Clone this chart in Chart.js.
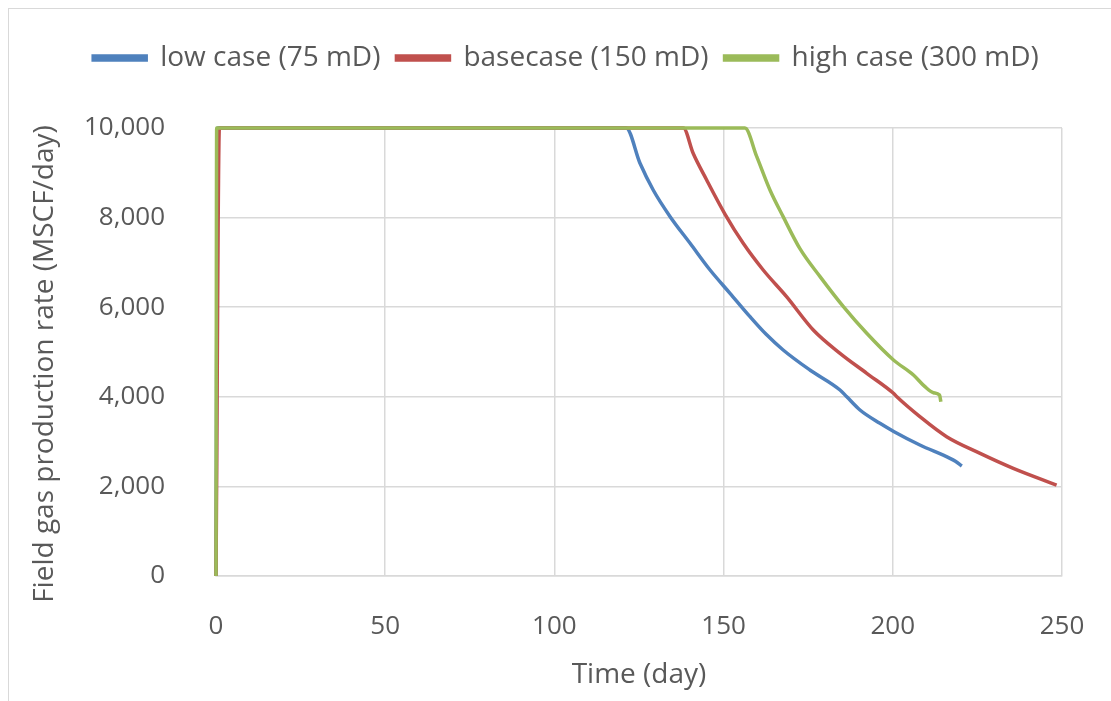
<!DOCTYPE html>
<html>
<head>
<meta charset="utf-8">
<script src="https://cdn.jsdelivr.net/npm/chart.js@4.4.1/dist/chart.umd.min.js"></script>
<style>
  html, body { margin: 0; padding: 0; background: #fff; overflow: hidden; }
  #frame { position: absolute; left: 8px; top: 8px; width: 1200px; height: 800px; border: 1px solid #d9d9d9; }
  #wrap { position: absolute; left: 0; top: 0; width: 1111px; height: 701px; }
</style>
</head>
<body>
<div id="frame"></div>
<div id="wrap"><canvas id="gasChart" width="1111" height="701"></canvas></div>
<script>
const seriesNames = ["low case (75 mD)", "basecase (150 mD)", "high case (300 mD)"];
const seriesColors = ["#4f81bd", "#c0504d", "#9bbb59"];

const lowDays = [0, 0.5, 121.2, 125.3, 129.2, 134.2, 140.1, 146.0, 151.9, 157.8, 162.5, 167.6, 175.5, 184.4, 186.4, 190.3, 196.2, 200.4, 208.0, 216.9, 218.5, 220.4];
const lowRate = [0, 10000, 10000, 9212, 8616, 8021, 7426, 6830, 6310, 5788, 5400, 5045, 4598, 4152, 4000, 3705, 3408, 3221, 2924, 2627, 2560, 2455];

const baseDays = [0, 1, 138.1, 141.0, 145.0, 150.4, 155.8, 161.7, 168.6, 176.5, 184.4, 192.3, 200.2, 201.2, 208.0, 215.9, 225.8, 235.6, 248.4];
const baseRate = [0, 10000, 10000, 9435, 8839, 8080, 7426, 6830, 6235, 5491, 4970, 4524, 4078, 4000, 3557, 3110, 2738, 2404, 2031];

const highDays = [0, 0.2, 156.3, 159.8, 163.7, 167.6, 172.6, 178.5, 185.4, 192.3, 200.2, 206.1, 209.5, 212.0, 213.8, 214.2];
const highRate = [0, 10000, 10000, 9360, 8616, 8021, 7300, 6682, 6012, 5417, 4821, 4487, 4226, 4092, 4040, 3890];

const xTicks = [0, 50, 100, 150, 200, 250];
const yTicks = [0, 2000, 4000, 6000, 8000, 10000];

function pairs(xs, ys) {
    return xs.map((x, i) => ({ x: x, y: ys[i] }));
}

const allDays = [lowDays, baseDays, highDays];
const allRates = [lowRate, baseRate, highRate];
const drawOrder = [2, 1, 0];

const textColor = '#595959';
const gridColor = '#d9d9d9';
const fontFamily = '"Open Sans", "DejaVu Sans", sans-serif';

// extra room under the legend (Excel leaves a big gap there) and nudge it right a bit
const legendTweak = {
    id: 'legendTweak',
    afterInit(chart) {
        const lg = chart.legend;
        const fit = lg.fit;
        lg.fit = function () {
            fit.call(this);
            this.height += 46;
        };
        const draw = lg.draw;
        lg.draw = function () {
            const c = this.ctx;
            c.save();
            c.translate(23, 0);
            draw.call(this);
            c.restore();
        };
    }
};

// the y title sits a little below the middle in the original
function shiftYTitle(s) {
    if (s._titleShifted) return;
    const dt = s.drawTitle;
    s.drawTitle = function () {
        this.ctx.save();
        this.ctx.translate(0, 12);
        dt.call(this);
        this.ctx.restore();
    };
    s._titleShifted = true;
}

const ctx = document.getElementById('gasChart').getContext('2d');
new Chart(ctx, {
    type: 'scatter',
    data: {
        datasets: seriesNames.map((name, i) => ({
            label: name,
            data: pairs(allDays[i], allRates[i]),
            showLine: true,
            borderColor: seriesColors[i],
            backgroundColor: seriesColors[i],
            borderWidth: 3.5,
            pointRadius: 0,
            pointHoverRadius: 0,
            cubicInterpolationMode: 'monotone',
            order: drawOrder[i],
            clip: 8
        }))
    },
    plugins: [legendTweak],
    options: {
        responsive: false,
        animation: false,
        layout: { padding: { left: 24, right: 49, top: 28, bottom: 5 } },
        plugins: {
            tooltip: { enabled: false },
            legend: {
                position: 'top',
                labels: {
                    boxWidth: 53,
                    boxHeight: 4,
                    color: textColor,
                    padding: 16,
                    font: { family: fontFamily, size: 28 },
                    sort: (a, b) => a.datasetIndex - b.datasetIndex
                }
            }
        },
        scales: {
            x: {
                type: 'linear',
                min: 0,
                max: 250,
                afterBuildTicks: s => { s.ticks = xTicks.map(v => ({ value: v })); },
                afterFit: s => { s.height = 120; s.paddingLeft = 0; s.paddingRight = 0; },
                grid: { color: gridColor, lineWidth: 1.5, drawTicks: false },
                border: { color: gridColor, width: 1.5 },
                ticks: { color: textColor, padding: 35, font: { family: fontFamily, size: 26 } },
                title: { display: true, text: 'Time (day)', color: textColor, font: { family: fontFamily, size: 28 } }
            },
            y: {
                min: 0,
                max: 10000,
                afterBuildTicks: s => { s.ticks = yTicks.map(v => ({ value: v })); },
                afterFit: s => { s.width = 192; shiftYTitle(s); },
                grid: { color: gridColor, lineWidth: 1.5, drawTicks: false },
                border: { display: false },
                ticks: {
                    color: textColor,
                    padding: 51,
                    font: { family: fontFamily, size: 26 },
                    callback: v => v.toLocaleString('en-US')
                },
                title: { display: true, text: 'Field gas production rate (MSCF/day)', color: textColor, font: { family: fontFamily, size: 28 } }
            }
        }
    }
});
</script>
</body>
</html>
